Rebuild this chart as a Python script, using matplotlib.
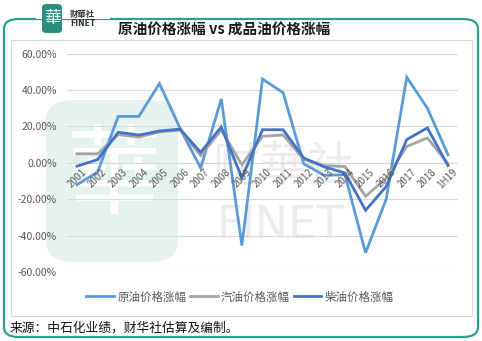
# 原油价格涨幅 vs 成品油价格涨幅 -- line chart, Excel look
import matplotlib.pyplot as plt
from matplotlib.patches import FancyBboxPatch, Rectangle
from matplotlib.ticker import FuncFormatter

plt.rcParams['font.family'] = ['Noto Sans CJK SC', 'DejaVu Sans']

years = ['2001', '2002', '2003', '2004', '2005', '2006', '2007', '2008', '2009', '2010',
         '2011', '2012', '2013', '2014', '2015', '2016', '2017', '2018', '1H19']
crude = [-12.0, -5.0, 25.5, 25.5, 43.5, 19.0, -2.8, 35.0, -45.3, 46.0,
         38.5, -0.5, -6.8, -6.5, -49.3, -20.0, 47.0, 30.0, 4.5]
gasoline = [5.0, 5.0, 15.5, 14.2, 17.0, 18.0, 4.0, 18.0, -1.0, 14.6,
            15.3, 2.0, -1.5, -2.0, -18.3, -8.5, 9.0, 13.7, -0.5]
diesel = [-1.8, 1.8, 16.8, 15.3, 17.5, 18.5, 5.8, 19.7, -8.2, 18.2,
          18.2, 2.7, -2.2, -5.5, -26.0, -13.0, 12.8, 19.2, -1.5]
series_names = ['原油价格涨幅', '汽油价格涨幅', '柴油价格涨幅']
colors = ['#5b9bd5', '#a5a5a5', '#4472c4']

W, H = 482, 341
fig = plt.figure(figsize=(W / 100, H / 100), dpi=100)


def fx(px):
    return px / W


def fy(py):
    return 1 - py / H


teal = '#2f9e8e'

# outer rounded frame
frame = FancyBboxPatch((fx(4), fy(337)), fx(474), (333 - 15) / H,
                       boxstyle='round,pad=0,rounding_size=0.03',
                       transform=fig.transFigure, fill=False,
                       edgecolor=teal, linewidth=1.6)
fig.patches.append(frame)
# gap in the frame behind the logo
fig.patches.append(Rectangle((fx(36), fy(19)), fx(74), 8 / H, transform=fig.transFigure,
                             facecolor='white', edgecolor='none', zorder=2))
# inner chart box
fig.patches.append(Rectangle((fx(11), fy(316)), fx(461), (316 - 40) / H,
                             transform=fig.transFigure, fill=False,
                             edgecolor='#d9d9d9', linewidth=0.8))

# logo
fig.patches.append(FancyBboxPatch((fx(42), fy(33)), fx(20), 29 / H,
                                  boxstyle='round,pad=0,rounding_size=0.01',
                                  transform=fig.transFigure, facecolor='#2a8f7f',
                                  edgecolor='none', zorder=3))
fig.text(fx(52), fy(18), '華', color='white', fontsize=12,
         ha='center', va='center', zorder=4, family=['Noto Sans CJK TC', 'DejaVu Sans'])
fig.text(fx(70), fy(14), '财華社', fontsize=6, color='#333333', fontweight='bold',
         ha='left', va='center', zorder=4, family=['Noto Sans CJK TC', 'DejaVu Sans'])
fig.text(fx(70), fy(24), 'FINET', fontsize=5.5, color='#333333', fontweight='bold',
         ha='left', va='center', zorder=4, family=['DejaVu Sans'])

# title
fig.text(fx(118), fy(29), '原油价格涨幅 vs 成品油价格涨幅', fontsize=10.5,
         fontweight='bold', color='#1a1a1a', ha='left', va='center')

# watermark
fig.patches.append(FancyBboxPatch((fx(46), fy(262)), fx(132), 162 / H,
                                  boxstyle='round,pad=0,rounding_size=0.06',
                                  transform=fig.transFigure, facecolor='#e6f2ef',
                                  edgecolor='none', zorder=0))
fig.text(fx(114), fy(178), '華', color='white', fontsize=70, ha='center', va='center',
         zorder=0.5, fontweight='light', family=['Noto Sans CJK TC', 'DejaVu Sans'])
fig.text(fx(283), fy(168), '财華社', color='#ececec', fontsize=34, ha='center', va='center',
         zorder=0.5, fontweight='light', family=['Noto Sans CJK TC', 'DejaVu Sans'])
fig.text(fx(280), fy(225), 'FINET', color='#ececec', fontsize=32, ha='center', va='center',
         zorder=0.5, family=['DejaVu Sans'])

# chart axes
ax = fig.add_axes([fx(66.7), fy(272.3), fx(458.3 - 66.7), (272.3 - 53.5) / H])
ax.patch.set_alpha(0)
ax.set_zorder(1)
x = list(range(len(years)))
for vals, name, c in zip([crude, gasoline, diesel], series_names, colors):
    ax.plot(x, vals, color=c, linewidth=2.0, label=name, solid_joinstyle='miter')

ax.set_xlim(-0.5, len(years) - 0.5)
ax.set_ylim(-60, 60)
ax.set_yticks(range(-60, 61, 20))
ax.yaxis.set_major_formatter(FuncFormatter(lambda v, p: f'{v:.2f}%'))
ax.grid(axis='y', color='#d9d9d9', linewidth=0.8)
ax.set_axisbelow(True)
ax.tick_params(axis='y', length=0, pad=7, labelsize=7.5, labelcolor='#595959')
ax.set_xticks([])
for s in ax.spines.values():
    s.set_visible(False)

# category labels sit on the zero line, like Excel
for i, lab in enumerate(years):
    ax.annotate(lab, (i, 0), xytext=(3, -3), textcoords='offset points',
                rotation=45, rotation_mode='anchor', ha='right', va='top',
                fontsize=7, color='#595959')

fig.legend(loc='center', bbox_to_anchor=(fx(240), fy(297)), ncol=3, frameon=False,
           fontsize=8.3, handlelength=2.4, handletextpad=0.3, columnspacing=0.3,
           labelcolor='#595959')

fig.text(fx(10), fy(328), '来源：中石化业绩，财华社估算及编制。', fontsize=9.2,
         color='#111111', ha='left', va='center')

fig.savefig('out.png', dpi=100)
